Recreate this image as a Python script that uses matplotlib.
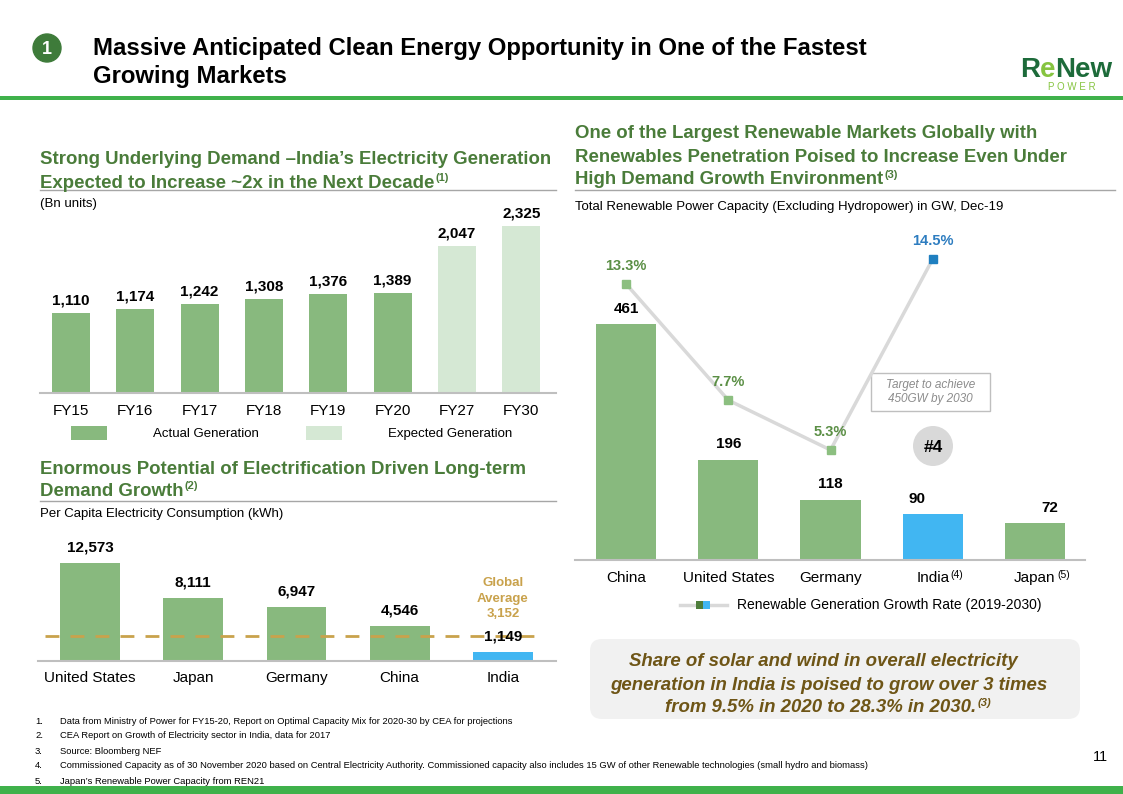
import matplotlib
matplotlib.use("Agg")
import matplotlib.pyplot as plt
from matplotlib.patches import Rectangle, Circle, FancyBboxPatch

plt.rcParams['font.family'] = ['Liberation Sans', 'DejaVu Sans']

# ---------------- data ----------------
fy_labels = ['FY15', 'FY16', 'FY17', 'FY18', 'FY19', 'FY20', 'FY27', 'FY30']
generation = [1110, 1174, 1242, 1308, 1376, 1389, 2047, 2325]
gen_expected = [False, False, False, False, False, False, True, True]

pc_countries = ['United States', 'Japan', 'Germany', 'China', 'India']
per_capita = [12573, 8111, 6947, 4546, 1149]
global_avg = 3152

re_countries = ['China', 'United States', 'Germany', 'India', 'Japan']
re_sups = ['', '', '', '(4)', '(5)']
re_capacity = [461, 196, 118, 90, 72]
re_growth = [13.3, 7.7, 5.3, 14.5]

footnotes = [
    "Data from Ministry of Power for FY15-20, Report on Optimal Capacity Mix for 2020-30 by CEA for projections",
    "CEA Report on Growth of Electricity sector in India, data for 2017",
    "Source: Bloomberg NEF",
    "Commissioned Capacity as of 30 November 2020 based on Central Electricity Authority. Commissioned capacity also includes 15 GW of other Renewable technologies (small hydro and biomass)",
    "Japan\u2019s Renewable Power Capacity from REN21",
]

# ---------------- colours ----------------
GREEN_BAR = '#88b97e'
GREEN_LIGHT = '#d5e8d4'
BLUE_BAR = '#41b6f2'
HEAD_GREEN = '#4a7c3a'
BRAND_GREEN = '#3fb14b'
GOLD = '#c9a24c'
BROWN = '#6e5516'
GRAY_AX = '#bfbfbf'

W, H = 1123, 794
fig = plt.figure(figsize=(W / 100, H / 100), dpi=100)

bg = fig.add_axes([0, 0, 1, 1])
bg.set_xlim(0, W)
bg.set_ylim(H, 0)
bg.axis('off')


def add_axes_px(x0, y0, x1, y1):
    ax = fig.add_axes([x0 / W, 1 - y1 / H, (x1 - x0) / W, (y1 - y0) / H])
    ax.set_facecolor('none')
    for s in ['top', 'right', 'left']:
        ax.spines[s].set_visible(False)
    ax.spines['bottom'].set_color(GRAY_AX)
    ax.spines['bottom'].set_linewidth(1.5)
    ax.set_yticks([])
    ax.tick_params(axis='x', length=0)
    return ax


def sup(parent, s, color, size=8):
    bg.annotate(s, xy=(1, 1), xycoords=parent, xytext=(1, 1),
                textcoords='offset points', ha='left', va='top',
                fontsize=size, color=color,
                fontweight='bold' if parent.get_fontweight() == 'bold' else 'normal',
                fontstyle=parent.get_fontstyle())


# ---------------- header ----------------
bg.add_patch(Circle((47, 48), 14, color='#3e7b3a', zorder=3))
bg.text(47, 49, '1', color='white', fontsize=13, fontweight='bold',
        ha='center', va='center', zorder=4)
bg.text(93, 48, 'Massive Anticipated Clean Energy Opportunity in One of the Fastest',
        fontsize=17.2, fontweight='bold', va='center', ha='left', color='black')
bg.text(93, 76, 'Growing Markets', fontsize=17.2, fontweight='bold',
        va='center', ha='left', color='black')

# logo
t_r = bg.text(1020, 70, 'R', fontsize=20, fontweight='bold', color='#1d6b3a',
              ha='left', va='center')
t_e = bg.annotate('e', xy=(1, 0), xycoords=t_r, xytext=(0, 0),
                  textcoords='offset points', fontsize=20, fontweight='bold',
                  color='#86c440', ha='left', va='bottom')
bg.annotate('New', xy=(1, 0), xycoords=t_e, xytext=(0, 0),
            textcoords='offset points', fontsize=20, fontweight='bold',
            color='#1d6b3a', ha='left', va='bottom')
bg.text(1072, 87, 'P O W E R', fontsize=7, color='#86c440', ha='center',
        va='center')

bg.add_patch(Rectangle((0, 96), W, 4, color=BRAND_GREEN, lw=0))
bg.add_patch(Rectangle((0, 786), W, 8, color=BRAND_GREEN, lw=0))

# ---------------- section headings ----------------
HFS = 13.4
bg.text(40, 160, 'Strong Underlying Demand \u2013India\u2019s Electricity Generation',
        fontsize=HFS, fontweight='bold', color=HEAD_GREEN, va='center')
h = bg.text(40, 183, 'Expected to Increase ~2x in the Next Decade',
            fontsize=HFS, fontweight='bold', color=HEAD_GREEN, va='center')
sup(h, '(1)', HEAD_GREEN, 8)
bg.plot([40, 556], [190, 190], color='#a6a6a6', lw=1)
bg.text(40, 204, '(Bn units)', fontsize=9.5, va='center')

bg.text(40, 469, 'Enormous Potential of Electrification Driven Long-term',
        fontsize=HFS, fontweight='bold', color=HEAD_GREEN, va='center')
h = bg.text(40, 491, 'Demand Growth', fontsize=HFS, fontweight='bold',
            color=HEAD_GREEN, va='center')
sup(h, '(2)', HEAD_GREEN, 8)
bg.plot([40, 556], [501, 501], color='#a6a6a6', lw=1)
bg.text(40, 514, 'Per Capita Electricity Consumption (kWh)', fontsize=9.5,
        va='center')

bg.text(575, 134, 'One of the Largest Renewable Markets Globally with',
        fontsize=HFS, fontweight='bold', color=HEAD_GREEN, va='center')
bg.text(575, 157, 'Renewables Penetration Poised to Increase Even Under',
        fontsize=HFS, fontweight='bold', color=HEAD_GREEN, va='center')
h = bg.text(575, 180, 'High Demand Growth Environment', fontsize=HFS,
            fontweight='bold', color=HEAD_GREEN, va='center')
sup(h, '(3)', HEAD_GREEN, 8)
bg.plot([575, 1115], [190, 190], color='#a6a6a6', lw=1)
bg.text(575, 207, 'Total Renewable Power Capacity (Excluding Hydropower) in GW, Dec-19',
        fontsize=9.5, va='center')

# ---------------- chart 1: generation ----------------
ax1 = add_axes_px(40, 193, 556, 393)
x1 = list(range(len(fy_labels)))
act_x = [i for i in x1 if not gen_expected[i]]
exp_x = [i for i in x1 if gen_expected[i]]
ax1.bar(act_x, [generation[i] for i in act_x], width=0.59, color=GREEN_BAR,
        label='Actual Generation')
ax1.bar(exp_x, [generation[i] for i in exp_x], width=0.59, color=GREEN_LIGHT,
        label='Expected Generation')
ax1.set_xlim(-0.482, 7.54)
ax1.set_ylim(0, 2785)
ax1.set_xticks(x1)
ax1.set_xticklabels(fy_labels, fontsize=11)
ax1.tick_params(axis='x', pad=8)
for i, v in enumerate(generation):
    ax1.annotate(f'{v:,}', (i, v), xytext=(0, 4), textcoords='offset points',
                 ha='center', va='bottom', fontsize=11, fontweight='bold')
ax1.legend(loc='upper left', bbox_to_anchor=(0.05, -0.14), ncol=2,
           frameon=False, fontsize=9.5, handlelength=2.7, handleheight=1.2,
           columnspacing=3.6, handletextpad=3.5, borderaxespad=0)

# ---------------- chart 2: per-capita ----------------
ax2 = add_axes_px(38, 540, 556, 661)
x2 = list(range(len(pc_countries)))
cols2 = [GREEN_BAR] * (len(pc_countries) - 1) + [BLUE_BAR]
ax2.bar(x2, per_capita, width=0.58, color=cols2)
ax2.set_xlim(-0.504, 4.515)
ax2.set_ylim(0, 15544)
ax2.axhline(global_avg, xmin=0.013, xmax=0.96, color=GOLD, lw=2,
            dashes=(5, 4), zorder=3)
ax2.set_xticks(x2)
ax2.set_xticklabels(pc_countries, fontsize=11)
ax2.tick_params(axis='x', pad=7)
for i, v in enumerate(per_capita):
    ax2.annotate(f'{v:,}', (i, v), xytext=(0, 6), textcoords='offset points',
                 ha='center', va='bottom', fontsize=11, fontweight='bold',
                 zorder=4)
ax2.annotate(f'Global\nAverage\n{global_avg:,}', (4, global_avg),
             xytext=(0, 12), textcoords='offset points', ha='center',
             va='bottom', fontsize=9.5, fontweight='bold', color=GOLD,
             linespacing=1.35)

# ---------------- chart 3: renewables ----------------
ax3 = add_axes_px(575, 230, 1085, 560)
x3 = list(range(len(re_countries)))
cols3 = [GREEN_BAR, GREEN_BAR, GREEN_BAR, BLUE_BAR, GREEN_BAR]
ax3.bar(x3, re_capacity, width=0.59, color=cols3)
ax3.set_xlim(-0.5, 4.49)
ax3.set_ylim(0, 644.5)
ax3.set_xticks([])
lab_dx = [0, 0, 0, -11, 11]
for i, v in enumerate(re_capacity):
    ax3.annotate(f'{v}', (i, v), xytext=(lab_dx[i], 6), textcoords='offset points',
                 ha='center', va='bottom', fontsize=11, fontweight='bold')
xt = ax3.get_xaxis_transform()
for i, (c, s) in enumerate(zip(re_countries, re_sups)):
    t = ax3.text(i, -0.055, c, transform=xt, ha='center', va='center',
                 fontsize=11)
    if s:
        sup(t, s, 'black', 7.5)

ax3b = ax3.twinx()
ax3b.set_ylim(0, 15.9)
ax3b.axis('off')
gx = list(range(len(re_growth)))
ax3b.plot(gx, re_growth, color='#d9d9d9', lw=2.5, zorder=2)
mcols = ['#8cbf80', '#8cbf80', '#8cbf80', '#1f7fc0']
lcols = ['#5b8f45', '#5b8f45', '#5b8f45', '#2e7dc0']
for i, v in enumerate(re_growth):
    ax3b.plot(i, v, marker='s', ms=6, color=mcols[i], ls='none', zorder=3)
    ax3b.annotate(f'{v}%', (i, v), xytext=(0, 8), textcoords='offset points',
                  ha='center', va='bottom', fontsize=10.5, fontweight='bold',
                  color=lcols[i])

# annotations on chart 3
bg.add_patch(Rectangle((871, 373), 119, 38, fill=False, ec=GRAY_AX, lw=1))
bg.text(930.5, 392, 'Target to achieve\n450GW by 2030', ha='center',
        va='center', fontsize=8.5, fontstyle='italic', color='#8c8c8c',
        linespacing=1.3)
bg.add_patch(Circle((933, 446), 20, color='#d9d9d9', lw=0))
bg.text(933, 447, '#4', ha='center', va='center', fontsize=12.5,
        fontweight='bold')

# chart 3 legend
bg.plot([680, 727], [605, 605], color='#d9d9d9', lw=2.5)
bg.add_patch(Rectangle((696, 601), 7, 8, color='#4e7d3b', lw=0, zorder=3))
bg.add_patch(Rectangle((703, 601), 7, 8, color=BLUE_BAR, lw=0, zorder=3))
bg.text(737, 605, 'Renewable Generation Growth Rate (2019-2030)', fontsize=10,
        va='center')

# ---------------- call-out box ----------------
bg.add_patch(FancyBboxPatch((590, 639), 490, 80,
                            boxstyle='round,pad=0,rounding_size=12',
                            fc='#f1f1f1', ec='none'))
BFS = 13.4
bg.text(823, 661, 'Share of solar and wind in overall electricity',
        ha='center', va='center', fontsize=BFS, fontweight='bold',
        fontstyle='italic', color=BROWN)
bg.text(829, 685, 'generation in India is poised to grow over 3 times',
        ha='center', va='center', fontsize=BFS, fontweight='bold',
        fontstyle='italic', color=BROWN)
t = bg.text(821, 708, 'from 9.5% in 2020 to 28.3% in 2030.', ha='center',
            va='center', fontsize=BFS, fontweight='bold', fontstyle='italic',
            color=BROWN)
sup(t, '(3)', BROWN, 8)

# ---------------- footnotes ----------------
for i, f in enumerate(footnotes):
    y = 721 + 15 * i
    bg.text(35, y, f'{i + 1}.', fontsize=6.8, va='center')
    bg.text(60, y, f, fontsize=6.75, va='center')

bg.text(1100, 757, '11', fontsize=10.5, ha='center', va='center')

fig.savefig('out.png', dpi=100)
